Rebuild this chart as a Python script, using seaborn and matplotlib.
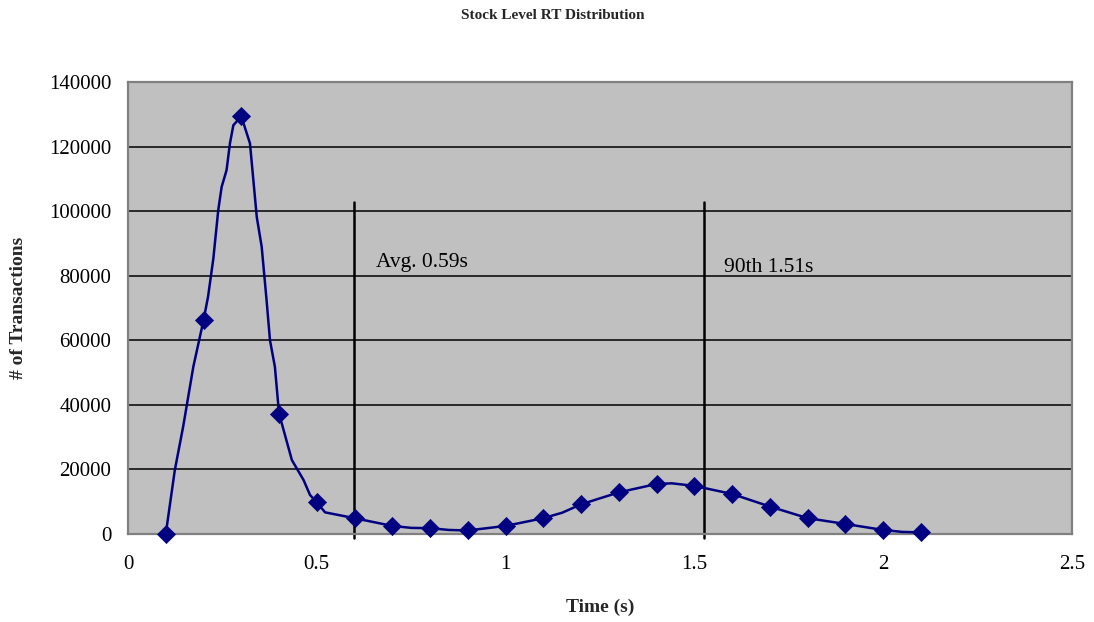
import matplotlib
matplotlib.use("Agg")
import matplotlib.pyplot as plt
import seaborn as sns
import pandas as pd

# Marker points (every 0.1 s)
marker_time = [0.1, 0.2, 0.3, 0.4, 0.5, 0.6, 0.7, 0.8, 0.9, 1.0, 1.1,
               1.2, 1.3, 1.4, 1.5, 1.6, 1.7, 1.8, 1.9, 2.0, 2.1]
marker_count = [0, 66200, 129400, 37300, 9800, 4900, 2500, 1800, 1100, 2500, 4900,
                9200, 12900, 15500, 14900, 12400, 8500, 4900, 3100, 1250, 500]

# Finer-resolution curve
curve_time = [0.100, 0.124, 0.146, 0.173, 0.200, 0.212, 0.226, 0.239, 0.248, 0.261,
              0.270, 0.279, 0.300, 0.323, 0.341, 0.354, 0.367, 0.376, 0.389, 0.400,
              0.434, 0.465, 0.482, 0.500, 0.522, 0.600, 0.700, 0.750, 0.800, 0.850,
              0.900, 1.000, 1.100, 1.150, 1.200, 1.300, 1.400, 1.440, 1.500, 1.600,
              1.700, 1.800, 1.900, 2.000, 2.050, 2.100]
curve_count = [0, 19800, 33200, 51800, 66200, 73500, 85300, 100300, 107500, 112700,
               121000, 126600, 129400, 121000, 98200, 89000, 72400, 60000, 51800, 37300,
               22900, 16700, 12100, 9800, 6700, 4900, 2500, 1900, 1800, 1250,
               1100, 2500, 4900, 6600, 9200, 12900, 15500, 15700, 14900, 12400,
               8500, 4900, 3100, 1250, 650, 500]

y_ticks = [0, 20000, 40000, 60000, 80000, 100000, 120000, 140000]
x_ticks = [0, 0.5, 1, 1.5, 2, 2.5]
x_tick_labels = ["0", "0.5", "1", "1.5", "2", "2.5"]

avg_time = 0.5985
p90_time = 1.5246
marker_line_top = 102700

sns.set_style("white")
plt.rcParams["font.family"] = ["Liberation Serif", "DejaVu Serif"]

fig = plt.figure(figsize=(10.94, 6.22), dpi=100)
ax = fig.add_axes([128/1094, 1-534/622, (1072-128)/1094, (534-82)/622])
ax.set_facecolor("#c0c0c0")

curve_df = pd.DataFrame({"time": curve_time, "count": curve_count})
marker_df = pd.DataFrame({"time": marker_time, "count": marker_count})

sns.lineplot(data=curve_df, x="time", y="count", ax=ax, color="#000080",
             linewidth=1.8, sort=False, zorder=3)
sns.scatterplot(data=marker_df, x="time", y="count", ax=ax, marker="D",
                color="#000080", s=85, edgecolor="#000080", linewidth=0.5,
                zorder=4, clip_on=False)

ax.set_xlim(0, 2.5)
ax.set_ylim(0, 140000)
ax.set_xticks(x_ticks)
ax.set_xticklabels(x_tick_labels)
ax.set_yticks(y_ticks)
ax.set_yticklabels([str(v) for v in y_ticks])
ax.yaxis.grid(True, color="black", linewidth=1.1)
ax.set_axisbelow(True)

for sp in ax.spines.values():
    sp.set_color("#808080")
    sp.set_linewidth(1.6)
ax.tick_params(axis="both", direction="out", length=6, width=1.2, color="#606060",
               labelsize=15, labelcolor="black", pad=6)
ax.tick_params(axis="x", pad=9)

for t in (avg_time, p90_time):
    ax.plot([t, t], [-1300, marker_line_top], color="black", linewidth=1.8,
            clip_on=False, zorder=2)

ax.text(0.657, 82800, "Avg. 0.59s", fontsize=15.5, color="black", ha="left", va="baseline")
ax.text(1.578, 81000, "90th 1.51s", fontsize=15.5, color="black", ha="left", va="baseline")

ax.set_xlabel("Time (s)", fontsize=14, fontweight="bold", labelpad=18)
ax.set_ylabel("# of Transactions", fontsize=14, fontweight="bold", labelpad=16)
fig.suptitle("Stock Level RT Distribution", fontsize=11, fontweight="bold",
             x=0.505, y=0.985)

fig.savefig("out.png", dpi=100, facecolor="white")
